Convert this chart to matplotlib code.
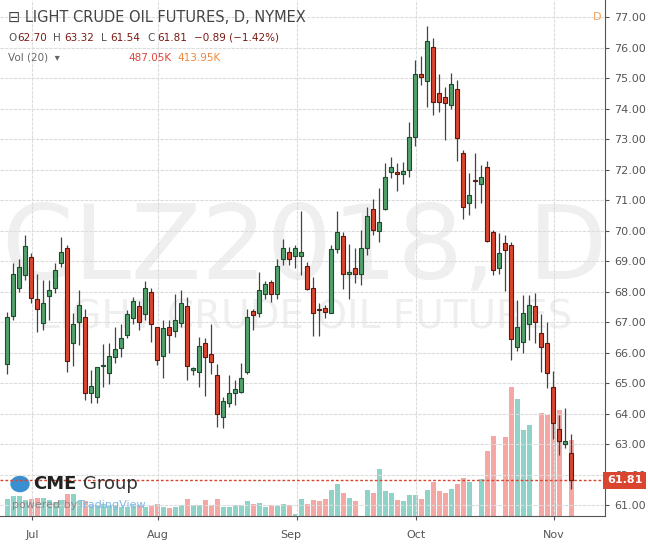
import matplotlib
matplotlib.use("Agg")
import matplotlib.pyplot as plt
from matplotlib.patches import Rectangle

opens = [65.61,67.20,68.13,68.54,69.12,67.74,66.98,67.85,68.13,68.92,69.44,66.32,67.01,67.18,64.68,64.53,65.56,65.33,65.86,66.15,
         66.59,67.12,67.54,67.25,68.00,66.82,65.90,66.84,66.70,66.98,67.54,65.41,65.37,66.30,65.94,65.26,63.89,64.35,64.66,64.71,
         65.37,67.36,67.28,67.91,68.30,67.91,69.05,69.28,69.16,69.16,68.85,68.13,67.41,67.45,67.28,69.38,69.83,68.57,68.78,68.59,
         69.41,70.69,69.98,70.70,71.93,71.91,71.84,72.00,73.05,75.12,74.91,76.03,74.50,74.39,74.11,74.63,72.53,70.89,71.63,71.51,
         72.07,69.94,68.76,69.58,69.54,66.17,66.35,66.95,67.53,66.65,66.30,64.88,63.48,63.00,62.70]
highs = [67.33,68.92,69.08,69.85,69.25,68.59,68.37,68.37,68.92,69.80,69.52,67.28,68.04,67.41,65.44,65.53,66.27,66.30,66.84,66.95,
         67.39,67.83,67.70,68.34,68.10,66.82,67.06,67.06,67.91,68.04,67.83,65.53,66.51,66.46,66.95,65.62,64.55,65.26,65.09,65.66,
         67.44,67.44,68.65,68.34,68.37,69.08,69.72,69.46,69.52,70.64,68.98,68.48,67.63,67.56,69.52,70.64,69.94,69.56,69.41,70.01,
         70.78,71.03,71.38,72.20,72.42,72.20,72.26,73.57,75.59,75.72,76.70,76.30,75.13,74.71,75.15,74.93,72.64,71.87,72.53,72.15,
         72.28,70.01,69.91,69.85,69.63,67.72,67.88,67.88,67.94,67.26,67.01,65.40,63.95,64.17,63.32]
lows = [65.29,67.06,67.99,68.37,67.61,66.68,66.73,67.06,67.94,68.81,65.37,65.55,66.24,64.44,64.35,64.33,64.88,64.98,65.64,65.86,
        66.46,66.95,66.73,67.06,66.35,65.59,65.18,65.97,66.51,66.84,65.09,65.26,64.88,64.57,65.31,63.56,63.51,64.22,64.27,64.66,
        65.31,66.73,67.15,67.74,67.66,67.77,68.86,68.86,68.76,68.54,68.05,66.54,66.54,67.12,67.28,69.25,68.09,67.77,68.27,68.21,
        69.20,69.85,69.63,70.67,71.71,71.30,71.54,71.76,72.77,74.77,74.04,73.79,73.90,72.97,74.00,72.29,70.38,70.51,70.73,70.89,
        69.63,68.54,68.59,68.03,65.77,66.06,65.99,66.41,66.30,65.37,64.82,63.15,62.64,62.86,61.54]
closes = [67.15,68.59,68.79,69.49,67.80,67.44,67.61,68.04,68.72,69.31,65.73,66.95,67.57,64.68,64.90,65.51,65.57,65.88,66.13,66.46,
          67.25,67.68,67.01,68.13,66.95,65.77,66.79,66.59,67.08,67.61,65.55,65.50,66.21,65.86,65.70,64.00,64.40,64.66,64.79,65.18,
          67.17,67.22,68.04,68.23,67.91,68.84,69.44,69.05,69.41,69.28,68.07,67.28,67.39,67.32,69.38,69.94,68.57,68.65,68.59,69.44,
          70.49,70.01,70.27,71.74,72.07,71.84,71.96,73.05,75.12,75.02,76.22,74.22,74.22,74.17,74.79,73.02,70.78,71.16,71.62,71.74,
          69.67,68.70,69.27,69.36,66.43,66.83,67.30,67.56,67.01,66.17,65.32,63.68,63.11,63.10,61.81]
volumes_k = [111,127,127,101,107,116,118,101,90,101,139,139,96,96,69,69,79,69,69,58,
             58,69,69,58,64,79,58,51,58,73,107,69,69,101,73,111,58,58,73,73,
             94,79,86,58,73,62,79,69,15,111,75,101,94,111,165,204,148,116,94,0,
             165,148,300,159,150,101,94,133,133,107,165,219,159,150,176,204,244,217,0,236,
             418,512,0,508,829,750,551,583,0,662,647,611,680,0,487]

month_labels = ["Jul", "Aug", "Sep", "Oct", "Nov"]
month_pos = [4.1, 25.1, 48.3, 68.2, 91.1]
month_label_pos = [4.1, 25.1, 47.3, 68.2, 91.1]
price_ticks = list(range(61, 78))

W, H = 648, 544
fig = plt.figure(figsize=(W/100, H/100), dpi=100)
rect = [0, 28/H, 605/W, 516/H]
vax = fig.add_axes(rect)
ax = fig.add_axes(rect)
ax.set_zorder(2); ax.patch.set_visible(False)
vax.set_zorder(1)

n = len(opens)
xlim = (-7.3/6, (605-7.3)/6)
GREEN_VOL, RED_VOL = "#8fd3c8", "#f5a8a3"
vax.text(0.504, 0.515, "CLZ2018, D", transform=vax.transAxes, ha="center", va="center",
         fontsize=74, color="#efefef", zorder=0, clip_on=True)
vax.text(0.504, 0.384, "LIGHT CRUDE OIL FUTURES", transform=vax.transAxes, ha="center", va="center",
         fontsize=28, color="#efefef", zorder=0, clip_on=True)
for i in range(n):
    up = closes[i] >= opens[i]
    vax.bar(i, volumes_k[i], width=0.75, color=GREEN_VOL if up else RED_VOL, linewidth=0, zorder=2)
vax.set_xlim(*xlim); vax.set_ylim(0, 3320)
vax.axis("off")

for i in range(n):
    up = closes[i] >= opens[i]
    fc = "#52a06c" if up else "#d9452e"
    ec = "#1f4a2c" if up else "#5a1a10"
    ax.vlines(i, lows[i], highs[i], color="#444444", linewidth=0.9, zorder=3)
    lo, hi = min(opens[i], closes[i]), max(opens[i], closes[i])
    ax.add_patch(Rectangle((i-0.33, lo), 0.66, max(hi-lo, 0.04), facecolor=fc, edgecolor=ec, linewidth=0.8, zorder=4))

ax.set_xlim(*xlim)
ax.set_ylim(61 - 11/30.5, 77 + 17/30.5)
ax.yaxis.tick_right()
ax.set_yticks(price_ticks)
ax.set_yticklabels([f"{p:.2f}" for p in price_ticks], color="#555555", fontsize=8)
ax.set_xticks(month_pos)
ax.set_xticklabels([])
for lbl, p in zip(month_labels, month_label_pos):
    ax.text(p, -0.028, lbl, transform=ax.get_xaxis_transform(), ha="center", va="top", fontsize=8, color="#555555")
ax.tick_params(length=3, color="#555555")
ax.grid(True, color="#dcdcdc", linewidth=0.8, linestyle=(0, (3, 1)))
for s in ["top", "left"]:
    ax.spines[s].set_visible(False)
ax.spines["right"].set_color("#555555"); ax.spines["bottom"].set_color("#555555")

last = closes[-1]
ax.axhline(last, color="#d9452e", linewidth=1, linestyle=(0, (2, 1.5)), zorder=2)
ax.text(1.003, last, f"{last:.2f}", transform=ax.get_yaxis_transform(), ha="left", va="center",
        fontsize=8, color="white", fontweight="bold",
        bbox=dict(boxstyle="square,pad=0.3", facecolor="#d9452e", edgecolor="none"), zorder=6)

fig.text(8/W, 1-17/H, "⊟ LIGHT CRUDE OIL FUTURES, D, NYMEX", fontsize=10.5, color="#444444", va="center")
fig.text(8/W, 1-38/H, "O", fontsize=7.5, color="#555555", va="center")
hdr = [("62.70", 17), ("H", 53), ("63.32", 64), ("L", 101), ("61.54", 110), ("C", 147), ("61.81", 157), ("\u22120.89 (\u22121.42%)", 194)]
for t, x in hdr:
    fig.text(x/W, 1-38/H, t, fontsize=7.5, color="#555555" if t in ("H", "L", "C") else "#7a1a12", va="center")
fig.text(8/W, 1-58/H, "Vol (20)  \u25be", fontsize=7.5, color="#666666", va="center")
fig.text(128/W, 1-58/H, "487.05K", fontsize=7.5, color="#e0443a", va="center")
fig.text(177/W, 1-58/H, "413.95K", fontsize=7.5, color="#f0883c", va="center")
fig.text(593/W, 1-17/H, "D", fontsize=8, color="#f0a050", va="center")

fig.text(33/W, 1-484/H, "CME", fontsize=13, fontweight="bold", color="#222222", va="center")
fig.text(83/W, 1-484/H, "Group", fontsize=13, color="#333333", va="center")
fig.text(12/W, 1-505/H, "powered by", fontsize=8, color="#888888", va="center")
fig.text(78/W, 1-505/H, "TradingView", fontsize=8, color="#7db7e8", va="center")
fig.patches.append(plt.Circle((20/W, 1-484/H), 9/W, transform=fig.transFigure, color="#3a8fd0", figure=fig))

fig.savefig("out.png", dpi=100, facecolor="white")
